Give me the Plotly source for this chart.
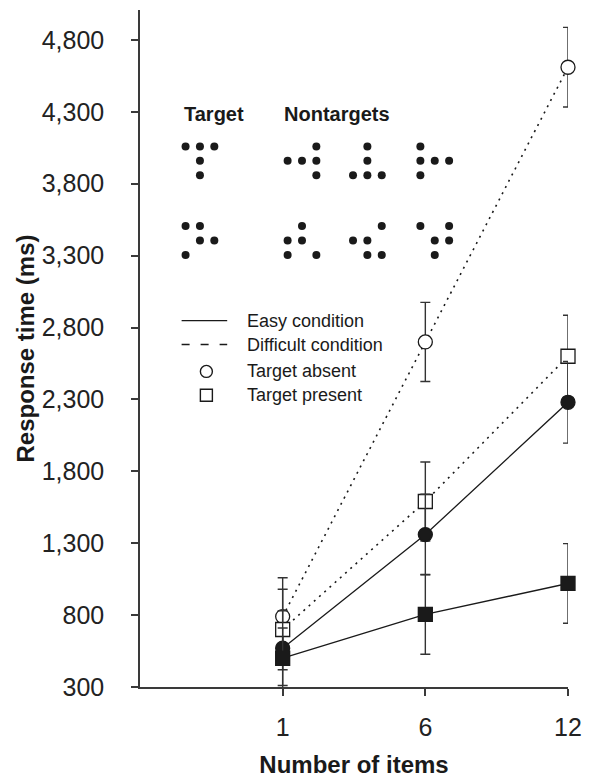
import plotly.graph_objects as go

# ---------------- data ----------------
set_sizes = ["1", "6", "12"]

diff_absent = [790, 2700, 4610]
diff_absent_err = [270, 275, 277]
diff_present = [700, 1590, 2600]
diff_present_err = [280, 275, 285]
easy_absent = [570, 1360, 2280]
easy_absent_err = [260, 280, 284]
easy_present = [500, 805, 1020]
easy_present_err = [210, 277, 277]

y_ticks = [300, 800, 1300, 1800, 2300, 2800, 3300, 3800, 4300, 4800]

legend_labels = ["Easy condition", "Difficult condition", "Target absent", "Target present"]

# stimulus illustration: dots as (row, col) cells of a 3x3 grid
target_top = [(0, 0), (0, 1), (0, 2), (1, 1), (2, 1)]
nontargets_top = [
    [(0, 2), (1, 0), (1, 1), (1, 2), (2, 2)],
    [(0, 1), (1, 1), (2, 0), (2, 1), (2, 2)],
    [(0, 0), (1, 0), (1, 1), (1, 2), (2, 0)],
]
target_bottom = [(0, 0), (0, 1), (1, 1), (1, 2), (2, 0)]
nontargets_bottom = [
    [(0, 1), (1, 0), (1, 1), (2, 0), (2, 2)],
    [(0, 2), (1, 0), (1, 1), (2, 1), (2, 2)],
    [(0, 0), (0, 2), (1, 1), (1, 2), (2, 1)],
]

# ---------------- styling / layout constants ----------------
FONT = "Liberation Sans, Arial, Helvetica, sans-serif"
INK = "#1a1a1a"
AX = "#3a3a3a"
W, H = 592, 784
ML, MR, MT, MB = 140, 20, 10, 94
PW, PH = W - ML - MR, H - MT - MB


def px(X, Y):
    """page pixel -> overlay (plot-area pixel) coordinates"""
    return X - ML, Y - MT


fig = go.Figure()

series = [
    (diff_absent, diff_absent_err, "circle", "white", "2px,5px", 1.6),
    (diff_present, diff_present_err, "square", "white", "2px,5px", 1.6),
    (easy_absent, easy_absent_err, "circle", INK, "solid", 1.3),
    (easy_present, easy_present_err, "square", INK, "solid", 1.3),
]
for vals, errs, sym, fill, dash, lw in series:
    fig.add_trace(go.Scatter(
        x=set_sizes, y=vals, mode="lines+markers",
        line=dict(color=INK, width=lw, dash=dash),
        marker=dict(symbol=sym, size=14, color=fill, line=dict(color=INK, width=1.3)),
        error_y=dict(type="data", array=errs, visible=True, color="#333333",
                     thickness=1.4, width=5),
        cliponaxis=False, showlegend=False, hoverinfo="skip",
    ))

# ---- stimulus dots (overlay axes in plot-area pixels) ----
STEP = 14.5
col_origins = [186, 289, 355, 423]
row_origins = [147, 227]
dots_x, dots_y = [], []
for r_i, (tgt, nts) in enumerate([(target_top, nontargets_top), (target_bottom, nontargets_bottom)]):
    for p_i, pattern in enumerate([tgt] + nts):
        for (r, c) in pattern:
            X, Y = px(col_origins[p_i] + c * STEP, row_origins[r_i] + r * STEP)
            dots_x.append(X)
            dots_y.append(Y)
fig.add_trace(go.Scatter(
    x=dots_x, y=dots_y, xaxis="x2", yaxis="y2", mode="markers",
    marker=dict(size=8, color=INK), showlegend=False, hoverinfo="skip",
))

# ---- custom legend ----
leg_rows = [322, 346, 373, 397]
lx0, lx1 = px(182, 0)[0], px(228, 0)[0]
for i, dash in enumerate(["solid", "8px,11px"]):
    yy = px(0, leg_rows[i])[1]
    fig.add_trace(go.Scatter(
        x=[lx0, lx1], y=[yy, yy], xaxis="x2", yaxis="y2", mode="lines",
        line=dict(color=INK, width=1.3, dash=dash), showlegend=False, hoverinfo="skip",
    ))
for i, sym in [(2, "circle-open"), (3, "square-open")]:
    mx, my = px(207, leg_rows[i])
    fig.add_trace(go.Scatter(
        x=[mx], y=[my], xaxis="x2", yaxis="y2", mode="markers",
        marker=dict(symbol=sym, size=12, color=INK, line=dict(width=1.4)),
        showlegend=False, hoverinfo="skip",
    ))

annotations = []
for i, lab in enumerate(legend_labels):
    ax_, ay_ = px(246, leg_rows[i])
    annotations.append(dict(x=ax_, y=ay_, xref="x2", yref="y2", text=lab, showarrow=False,
                            xanchor="left", yanchor="middle",
                            font=dict(family=FONT, size=18, color=INK)))
for txt, cx in [("Target", 215), ("Nontargets", 339)]:
    ax_, ay_ = px(cx, 114)
    annotations.append(dict(x=ax_, y=ay_, xref="x2", yref="y2", text="<b>" + txt + "</b>",
                            showarrow=False, xanchor="center", yanchor="middle",
                            font=dict(family=FONT, size=20, color=INK)))

fig.update_layout(
    width=W, height=H, autosize=False,
    margin=dict(l=ML, r=MR, t=MT, b=MB),
    paper_bgcolor="white", plot_bgcolor="white",
    font=dict(family=FONT, color=INK),
    annotations=annotations,
    xaxis=dict(
        type="category", categoryorder="array", categoryarray=set_sizes,
        range=[-1, 2], showline=True, linecolor=AX, linewidth=1.5,
        ticks="outside", ticklen=7, tickwidth=1.5, tickcolor=AX,
        ticklabelstandoff=10,
        tickfont=dict(family=FONT, size=25, color="#222"),
        showgrid=False, zeroline=False,
        title=dict(text="<b>Number of items</b>", standoff=16,
                   font=dict(family=FONT, size=24, color=INK)),
    ),
    yaxis=dict(
        range=[300, 5008], tickvals=y_ticks, tickformat=",d",
        showline=True, linecolor=AX, linewidth=1.5,
        ticks="outside", ticklen=7, tickwidth=1.5, tickcolor=AX,
        ticklabelstandoff=22,
        tickfont=dict(family=FONT, size=25, color="#222"),
        showgrid=False, zeroline=False,
        title=dict(text="<b>Response time (ms)</b>", standoff=0,
                   font=dict(family=FONT, size=24, color=INK)),
    ),
    xaxis2=dict(overlaying="x", range=[0, PW], visible=False, fixedrange=True),
    yaxis2=dict(overlaying="y", range=[PH, 0], visible=False, fixedrange=True),
)

fig.write_html("out.html")
